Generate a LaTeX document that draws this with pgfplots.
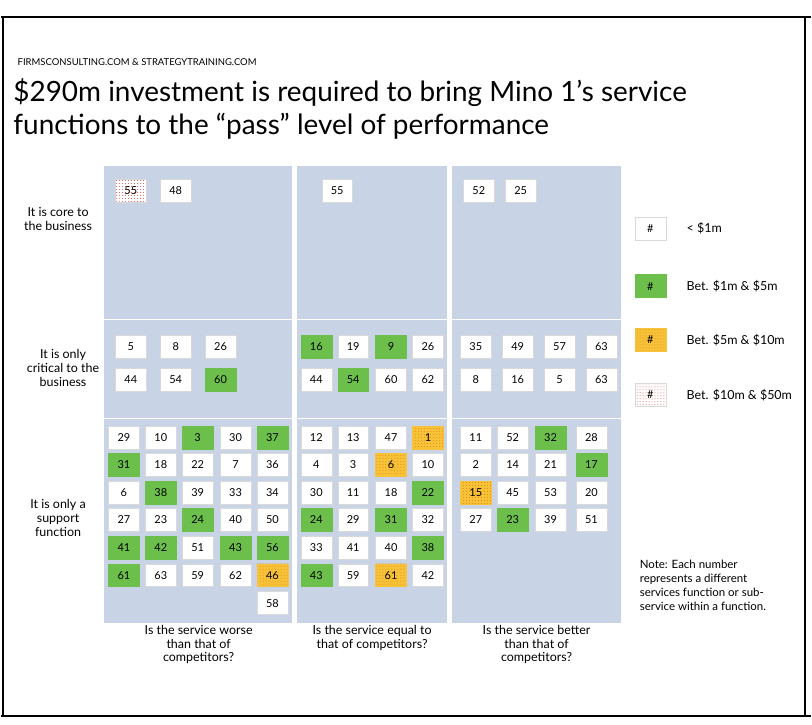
\documentclass[border=0pt]{standalone}
\usepackage{pgfplots}
\pgfplotsset{compat=1.18}
\usepackage{fontspec}
\setmainfont{Lato}
\usetikzlibrary{patterns}
\definecolor{panel}{HTML}{C9D3E6}
\definecolor{grn}{HTML}{6CBF4A}
\definecolor{org}{HTML}{F7C23A}
\definecolor{orgdot}{HTML}{E08A00}
\definecolor{reddot}{HTML}{E05050}
\begin{document}
\begin{tikzpicture}
\begin{axis}[x=1pt,y=1pt,y dir=reverse,xmin=0,xmax=812,ymin=0,ymax=727,
  hide axis,scale only axis,clip=false,
  point meta=explicit symbolic,
  every node near coord/.append style={anchor=center,font=\fontsize{11}{13}\selectfont,
    minimum width=31pt,minimum height=23pt,inner sep=0pt,draw=white!85!black,line width=0.4pt},
  nodes near coords align=center]
\path (0,0) rectangle (812,727);
% panels
\fill[panel] (103,167) rectangle (292,625);
\fill[panel] (297,167) rectangle (447,625);
\fill[panel] (452,167) rectangle (622,625);
\draw[white,line width=1pt] (103,320)--(292,320) (297,320)--(447,320) (452,320)--(622,320);
\draw[white,line width=1pt] (103,420)--(292,420) (297,420)--(447,420) (452,420)--(622,420);
% frame
\draw[black,line width=2.5pt] (0,17)--(812,17);
\draw[black,line width=2pt] (0,718)--(812,718);
\draw[black,line width=2pt] (2,17)--(2,718);
\draw[black,line width=2pt] (806,17)--(806,718);
% white cells
\addplot[only marks,mark=none,nodes near coords,every node near coord/.append style={fill=white}]
 table[meta=l,row sep=\\]{x y l\\
175 191 48\\
130 348 5\\ 175 348 8\\ 220 348 26\\ 130 381 44\\ 175 381 54\\
123 439 29\\ 160 439 10\\ 235 439 30\\
160 466 18\\ 197 466 22\\ 235 466 7\\ 272 466 36\\
123 494 6\\ 197 494 39\\ 235 494 33\\ 272 494 34\\
123 521 27\\ 160 521 23\\ 235 521 40\\ 272 521 50\\
197 549 51\\
160 577 63\\ 197 577 59\\ 235 577 62\\
272 605 58\\
337 191 55\\
353 348 19\\ 428 348 26\\ 316 381 44\\ 391 381 60\\ 428 381 62\\
316 439 12\\ 353 439 13\\ 391 439 47\\
316 466 4\\ 353 466 3\\ 428 466 10\\
316 494 30\\ 353 494 11\\ 391 494 18\\
353 521 29\\ 428 521 32\\
316 549 33\\ 353 549 41\\ 391 549 40\\
353 577 59\\ 428 577 42\\
479 191 52\\ 521 191 25\\
476 348 35\\ 518 348 49\\ 560 348 57\\ 602 348 63\\
476 381 8\\ 518 381 16\\ 560 381 5\\ 602 381 63\\
476 439 11\\ 513 439 52\\ 592 439 28\\
476 466 2\\ 513 466 14\\ 551 466 21\\
513 494 45\\ 551 494 53\\ 592 494 20\\
476 521 27\\ 551 521 39\\ 592 521 51\\
651 229 \#\\
};
% green cells
\addplot[only marks,mark=none,nodes near coords,every node near coord/.append style={fill=grn,draw=grn}]
 table[meta=l,row sep=\\]{x y l\\
220 381 60\\
197 439 3\\ 272 439 37\\ 123 466 31\\ 160 494 38\\ 197 521 24\\
123 549 41\\ 160 549 42\\ 235 549 43\\ 272 549 56\\ 123 577 61\\
316 348 16\\ 391 348 9\\ 353 381 54\\
428 494 22\\ 316 521 24\\ 391 521 31\\ 428 549 38\\ 316 577 43\\
551 439 32\\ 592 466 17\\ 513 521 23\\
651 287 \#\\
};
% orange cells
\addplot[only marks,mark=none,nodes near coords,every node near coord/.append style={fill=org,draw=org,
  postaction={pattern=dots,pattern color=orgdot}}]
 table[meta=l,row sep=\\]{x y l\\
272 577 46\\ 428 439 1\\ 391 466 6\\ 391 577 61\\ 476 494 15\\
651 341 \#\\
};
% red cells
\addplot[only marks,mark=none,nodes near coords,every node near coord/.append style={fill=white,draw=white!85!black,
  postaction={pattern=dots,pattern color=reddot}}]
 table[meta=l,row sep=\\]{x y l\\
130 191 55\\
651 396 \#\\
};
% texts
\node[anchor=west,font=\fontsize{9.5}{11}\selectfont] at (13,62) {FIRMSCONSULTING.COM \& STRATEGYTRAINING.COM};
\node[anchor=north west,align=left,font=\fontsize{28}{33}\selectfont,inner sep=0pt] at (12,79)
 {\$290m investment is required to bring Mino 1’s service\\functions to the “pass” level of performance};
\node[align=center,font=\fontsize{12.5}{14}\selectfont] at (57,220) {It is core to\\the business};
\node[align=center,font=\fontsize{12.5}{14}\selectfont] at (62,369) {It is only\\critical to the\\business};
\node[align=center,font=\fontsize{12.5}{14}\selectfont] at (57,520) {It is only a\\support\\function};
\node[align=center,font=\fontsize{12.5}{13.5}\selectfont,anchor=north] at (198,624) {Is the service worse\\than that of\\competitors?};
\node[align=center,font=\fontsize{12.5}{13.5}\selectfont,anchor=north] at (372,624) {Is the service equal to\\that of competitors?};
\node[align=center,font=\fontsize{12.5}{13.5}\selectfont,anchor=north] at (537,624) {Is the service better\\than that of\\competitors?};
\node[anchor=west,font=\fontsize{12.5}{14}\selectfont] at (684,229) {< \$1m};
\node[anchor=west,font=\fontsize{12.5}{14}\selectfont] at (684,287) {Bet. \$1m \& \$5m};
\node[anchor=west,font=\fontsize{12.5}{14}\selectfont] at (684,341) {Bet. \$5m \& \$10m};
\node[anchor=west,font=\fontsize{12.5}{14}\selectfont] at (684,396) {Bet. \$10m \& \$50m};
\node[anchor=north west,align=left,font=\fontsize{11.5}{14}\selectfont] at (637,558) {Note: Each number\\represents a different\\services function or sub-\\service within a function.};
\end{axis}
\end{tikzpicture}
\end{document}
